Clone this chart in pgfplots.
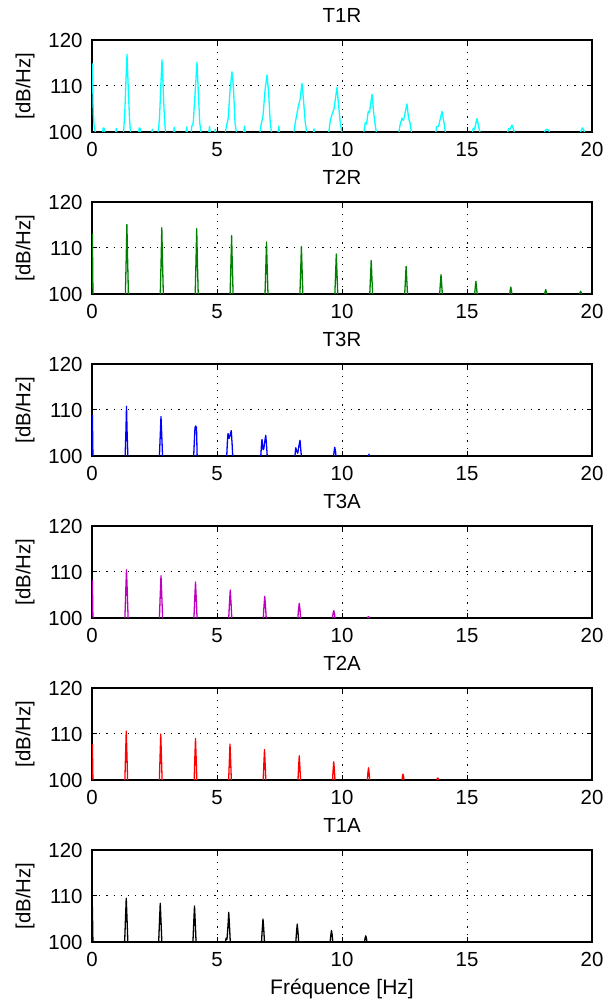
\documentclass[border=0pt]{standalone}
\usepackage{pgfplots}
\pgfplotsset{compat=1.18}
\usepackage{fontspec}
\setmainfont{Liberation Sans}
\definecolor{mgreen}{rgb}{0,0.5,0}
\definecolor{mmag}{rgb}{0.75,0,0.75}
\definecolor{mcyan}{rgb}{0,1,1}
\definecolor{mblue}{rgb}{0,0,1}
\definecolor{mred}{rgb}{1,0,0}
\pgfplotsset{every axis title shift=0pt}
\pgfplotsset{panel/.style={
 width=250pt, height=46pt, scale only axis, anchor=south west,
 xmin=0,xmax=20,ymin=100,ymax=120,
 xtick={0,5,10,15,20}, ytick={100,110,120},
 grid=major, major grid style={black, line width=0.5pt, dash pattern=on 0.6pt off 3pt},
 tick align=inside, major tick length=2.5pt, tick style={black, line width=0.5pt},
 axis line style={line width=0.8pt},
 /pgf/number format/assume math mode=true,
 tick label style={font=\fontsize{10.2}{12}\selectfont},
 yticklabel style={xshift=-1.2pt},
 xticklabel style={yshift=-1.7pt},
 title style={font=\fontsize{10.2}{12}\selectfont, at={(axis description cs:0.5,1)}, anchor=base, yshift=8.5pt},
 ylabel={[dB/Hz]},
 ylabel style={font=\fontsize{10.2}{12}\selectfont, at={(axis description cs:-0.134,0.5)}, anchor=center},
 every axis plot/.append style={line width=0.65pt, line join=round},
}}
\begin{document}
\begin{tikzpicture}
\useasboundingbox (0,0) rectangle (307pt,502.5pt);
% T1R
\begin{axis}[panel, at={(46pt,436.5pt)}, title={T1R}]
\addplot[mcyan] coordinates {
(0.015,114.9) (0.05,104) (0.09,101.0) (0.12,100.4) (0.15,99)
(0.40,99) (0.45,100.9) (0.49,100.8) (0.53,99)
(0.92,99) (0.97,100.8) (1.01,99)
(1.25,99) (1.31,104) (1.36,111.5) (1.40,116.9) (1.44,111) (1.50,103) (1.55,99)
(1.85,99) (1.89,100.9) (1.93,100.7) (1.97,99)
(2.37,99) (2.41,100.6) (2.45,99)
(2.63,99) (2.70,103) (2.76,111) (2.80,115.7) (2.84,110.5) (2.90,102.5) (2.96,99)
(3.24,99) (3.29,101.0) (3.34,99)
(3.74,99) (3.79,101.1) (3.84,99)
(3.95,99) (3.99,101.2) (4.05,102) (4.13,109) (4.20,115.2) (4.25,109) (4.31,102) (4.38,99)
(4.65,99) (4.70,101.2) (4.75,99)
(4.89,99) (4.93,100.6) (4.97,99)
(5.30,99) (5.38,101.3) (5.45,103) (5.52,109) (5.60,113.1) (5.66,109.5) (5.72,102) (5.80,99)
(6.05,99) (6.10,101.3) (6.15,99)
(6.70,99) (6.76,101.5) (6.84,103.5) (6.92,109) (7.00,112.4) (7.06,109) (7.13,102) (7.20,99)
(7.42,99) (7.47,101.3) (7.52,99)
(8.05,99) (8.13,102) (8.25,105.5) (8.32,107) (8.40,110.6) (8.46,107) (8.53,102) (8.62,99)
(8.83,99) (8.88,100.7) (8.93,99)
(9.45,99) (9.53,102.5) (9.60,103.8) (9.68,105) (9.80,109.7) (9.86,106) (9.93,102) (10.02,99)
(10.85,99) (10.93,102) (10.98,101.7) (11.05,104.5) (11.10,104.2) (11.20,108.2) (11.27,104) (11.33,101.5) (11.40,99)
(12.25,99) (12.32,101.5) (12.40,103) (12.46,102.5) (12.60,106.1) (12.66,103) (12.72,102) (12.80,99)
(13.73,99) (13.78,101.2) (13.86,101.2) (14.00,104.5) (14.08,102) (14.16,99)
(15.18,99) (15.25,100.8) (15.30,100.6) (15.40,102.9) (15.48,100.8) (15.56,99)
(16.58,99) (16.66,100.7) (16.72,100.6) (16.80,101.5) (16.86,100.6) (16.94,99)
(18.05,99) (18.12,100.3) (18.20,100.6) (18.28,100.3) (18.35,99)
(19.50,99) (19.56,100.3) (19.62,100.9) (19.68,100.3) (19.75,99)
};
\end{axis}
% T2R
\begin{axis}[panel, at={(46pt,355.5pt)}, title={T2R}]
\addplot[mgreen] coordinates {
(0.015,113.1) (0.04,99)
(1.331,99) (1.371,108.3) (1.396,115.1) (1.421,108.3) (1.461,99)
(2.727,99) (2.767,107.9) (2.792,114.4) (2.817,107.9) (2.857,99)
(4.123,99) (4.163,107.8) (4.188,114.2) (4.213,107.8) (4.253,99)
(5.519,99) (5.559,107.0) (5.584,112.7) (5.609,107.0) (5.649,99)
(6.915,99) (6.955,106.2) (6.980,111.3) (7.005,106.2) (7.045,99)
(8.311,99) (8.351,105.7) (8.376,110.3) (8.401,105.7) (8.441,99)
(9.707,99) (9.747,104.8) (9.772,108.7) (9.797,104.8) (9.837,99)
(11.103,99) (11.143,104.0) (11.168,107.3) (11.193,104.0) (11.233,99)
(12.499,99) (12.539,103.3) (12.564,106.0) (12.589,103.3) (12.629,99)
(13.895,99) (13.935,102.3) (13.960,104.2) (13.985,102.3) (14.025,99)
(15.291,99) (15.331,101.5) (15.356,102.75) (15.381,101.5) (15.421,99)
(16.687,99) (16.727,100.8) (16.752,101.5) (16.777,100.8) (16.817,99)
(18.083,99) (18.123,100.5) (18.148,100.95) (18.173,100.5) (18.213,99)
(19.479,99) (19.519,100.3) (19.544,100.6) (19.569,100.3) (19.609,99)
};
\end{axis}
% T3R
\begin{axis}[panel, at={(46pt,274.5pt)}, title={T3R}]
\addplot[mblue] coordinates {
(0.015,108.9) (0.04,99)
(1.32,99) (1.36,106) (1.38,110.8) (1.40,106) (1.44,99)
(2.69,99) (2.73,104.5) (2.76,108.6) (2.79,104.5) (2.83,99)
(4.06,99) (4.10,104) (4.12,106.2) (4.15,106.5) (4.18,106.2) (4.21,99)
(5.38,99) (5.42,103.5) (5.44,104.9) (5.48,103.8) (5.51,104.3) (5.57,105.5) (5.60,103) (5.64,99)
(6.74,99) (6.78,102.5) (6.80,103.6) (6.84,101.4) (6.87,101.5) (6.92,103.5) (6.95,104.5) (6.98,102.5) (7.02,99)
(8.10,99) (8.15,101.8) (8.19,101.0) (8.23,100.6) (8.27,102) (8.32,103.4) (8.35,101.5) (8.39,99)
(9.64,99) (9.69,101.2) (9.71,101.9) (9.74,101) (9.78,99)
(11.03,99) (11.08,100.4) (11.12,99)
};
\end{axis}
% T3A
\begin{axis}[panel, at={(46pt,193.5pt)}, title={T3A}]
\addplot[mmag] coordinates {
(0.015,108.2) (0.04,99)
(1.31,99) (1.35,105.8) (1.38,110.5) (1.41,105.8) (1.45,99)
(2.69,99) (2.73,105.1) (2.76,109.2) (2.79,105.1) (2.83,99)
(4.07,99) (4.11,104.3) (4.14,107.8) (4.17,104.3) (4.21,99)
(5.46,99) (5.50,103.4) (5.53,106.1) (5.56,103.4) (5.60,99)
(6.84,99) (6.88,102.6) (6.91,104.7) (6.94,102.6) (6.98,99)
(8.22,99) (8.26,101.8) (8.29,103.2) (8.32,101.8) (8.36,99)
(9.60,99) (9.64,100.9) (9.67,101.6) (9.70,100.9) (9.74,99)
(10.99,99) (11.03,100.15) (11.06,100.3) (11.09,100.15) (11.13,99)
};
\end{axis}
% T2A
\begin{axis}[panel, at={(46pt,112.5pt)}, title={T2A}]
\addplot[mred] coordinates {
(0.015,107.8) (0.04,99)
(1.31,99) (1.345,105.9) (1.37,110.65) (1.395,105.9) (1.43,99)
(2.69,99) (2.725,105.5) (2.75,110.0) (2.775,105.5) (2.81,99)
(4.08,99) (4.115,105.0) (4.14,109.0) (4.165,105.0) (4.20,99)
(5.46,99) (5.495,104.3) (5.52,107.8) (5.545,104.3) (5.58,99)
(6.84,99) (6.875,103.6) (6.90,106.6) (6.925,103.6) (6.96,99)
(8.23,99) (8.265,102.9) (8.29,105.25) (8.315,102.9) (8.35,99)
(9.61,99) (9.645,102.2) (9.67,103.95) (9.695,102.2) (9.73,99)
(11.00,99) (11.035,101.5) (11.06,102.65) (11.085,101.5) (11.12,99)
(12.38,99) (12.415,100.7) (12.44,101.3) (12.465,100.7) (12.50,99)
(13.77,99) (13.805,100.25) (13.83,100.45) (13.855,100.25) (13.89,99)
};
\end{axis}
% T1A
\begin{axis}[panel, at={(46pt,31.5pt)}, title={T1A}, xlabel={Fréquence [Hz]},
  xlabel style={font=\fontsize{10.5}{12}\selectfont, at={(axis description cs:0.5,0)}, anchor=base, yshift=-26pt}]
\addplot[black] coordinates {
(0.015,107.7) (0.04,99)
(1.30,99) (1.34,105.2) (1.37,109.5) (1.40,105.2) (1.44,99)
(2.66,99) (2.70,104.6) (2.73,108.4) (2.76,104.6) (2.80,99)
(4.03,99) (4.07,104.3) (4.10,107.8) (4.13,104.3) (4.17,99)
(5.33,99) (5.36,100.8) (5.40,100.6) (5.44,103.5) (5.47,106.45) (5.50,103.5) (5.54,99)
(6.77,99) (6.81,102.75) (6.84,105.0) (6.87,102.75) (6.91,99)
(8.14,99) (8.18,102.1) (8.21,103.9) (8.24,102.1) (8.28,99)
(9.51,99) (9.55,101.4) (9.58,102.5) (9.61,101.4) (9.65,99)
(10.88,99) (10.92,100.75) (10.95,101.35) (10.98,100.75) (11.02,99)
};
\end{axis}
\end{tikzpicture}
\end{document}
